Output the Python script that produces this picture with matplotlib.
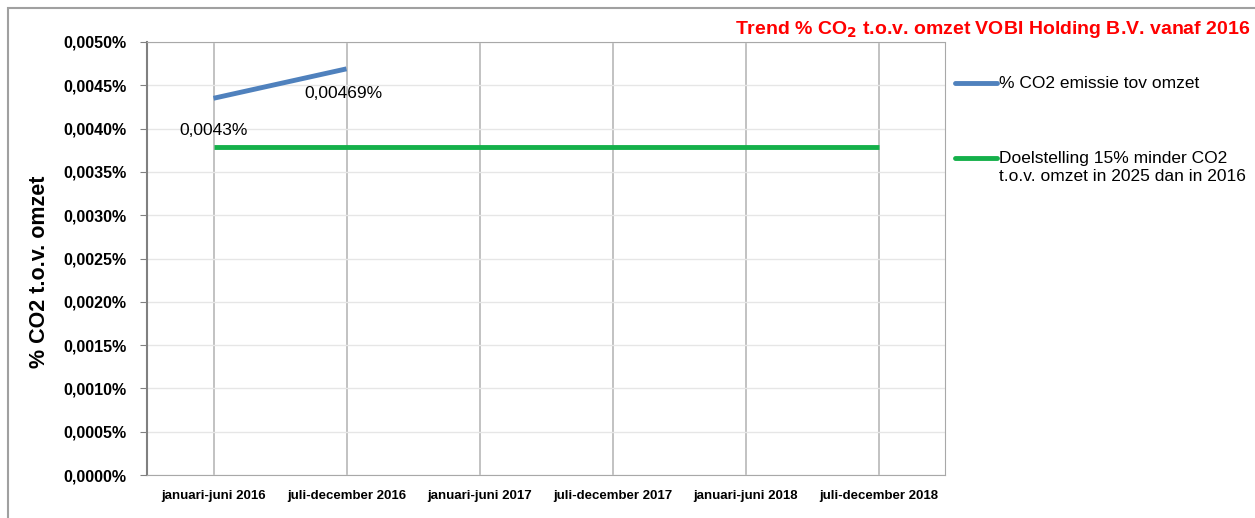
import matplotlib.pyplot as plt
from matplotlib.lines import Line2D
from matplotlib.patches import Rectangle

periods = ['januari-juni 2016', 'juli-december 2016', 'januari-juni 2017',
           'juli-december 2017', 'januari-juni 2018', 'juli-december 2018']
co2_pct = [0.00435, 0.00469]
co2_labels = ['0,0043%', '0,00469%']
target = [0.00379] * 6
yticks = [i * 0.0005 for i in range(11)]

BLUE = '#4f81bd'
GREEN = '#14b04a'

plt.rcParams['font.family'] = ['Liberation Sans', 'DejaVu Sans']

W, H = 1255, 518
fig = plt.figure(figsize=(12.55, 5.18), dpi=100)
ax = fig.add_axes([147 / W, 1 - 475 / H, (945 - 147) / W, (475 - 42) / H])

# outer frame of the chart object
fig.patches.append(Rectangle((8 / W, -0.01), 1.1, 1 - 8 / H + 0.01, transform=fig.transFigure,
                             fill=False, edgecolor='#a0a0a0', linewidth=1.5))

x = list(range(len(periods)))
ax.plot(x, target, color=GREEN, linewidth=3.5, solid_capstyle='butt')
ax.plot(x[:len(co2_pct)], co2_pct, color=BLUE, linewidth=3.5, solid_capstyle='butt')

ax.annotate(co2_labels[0], (x[0], co2_pct[0]), xytext=(0, -18), textcoords='offset points',
            ha='center', va='top', fontsize=12.5)
ax.annotate(co2_labels[1], (x[1], co2_pct[1]), xytext=(-2, -12), textcoords='offset points',
            ha='center', va='top', fontsize=12.5)

ax.set_xlim(-0.5, 5.5)
ax.set_ylim(0, 0.005)
ax.set_yticks(yticks)
ax.set_yticklabels([('%.4f%%' % v).replace('.', ',') for v in yticks],
                   fontsize=11.5, fontweight='bold')
ax.set_xticks(x)
ax.set_xticklabels(periods, fontsize=9.5, fontweight='bold')
ax.tick_params(axis='x', length=0, pad=11)
ax.tick_params(axis='y', direction='out', length=5, color='#808080', pad=10)

ax.grid(axis='y', color='#e6e6e6', linewidth=1)
ax.grid(axis='x', color='#b8b8b8', linewidth=1.2)
ax.set_axisbelow(True)

ax.spines['left'].set_color('#808080')
ax.spines['left'].set_linewidth(1.5)
for s in ['top', 'right', 'bottom']:
    ax.spines[s].set_color('#a8a8a8')
    ax.spines[s].set_linestyle((0, (1.5, 1)))
    ax.spines[s].set_linewidth(0.8)

ax.set_ylabel('% CO2 t.o.v. omzet', fontsize=15.5, fontweight='bold')
ax.yaxis.set_label_coords(-0.121, 0.47)

fig.text(1250 / W, 1 - 30 / H, r'Trend % CO$_\mathbf{2}$ t.o.v. omzet VOBI Holding B.V. vanaf 2016',
         color='red', fontsize=14, fontweight='bold', ha='right', va='center')

# legend, handle aligned with first text line like the original
legend_items = [
    (BLUE, 83, '% CO2 emissie tov omzet'),
    (GREEN, 158, 'Doelstelling 15% minder CO2\nt.o.v. omzet in 2025 dan in 2016'),
]
for color, ypix, text in legend_items:
    yf = 1 - ypix / H
    fig.lines.append(Line2D([955 / W, 997 / W], [yf, yf], transform=fig.transFigure,
                            color=color, linewidth=3.5, solid_capstyle='round'))
    fig.text(999 / W, yf + 7 / H, text, fontsize=12.5, ha='left', va='top', linespacing=1.25)

fig.savefig('out.png', dpi=100)
